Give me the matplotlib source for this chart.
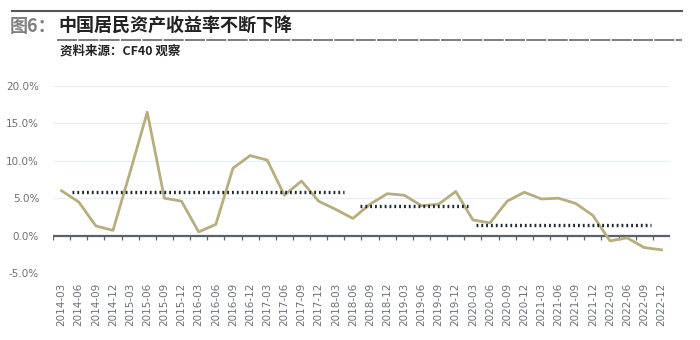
import matplotlib.pyplot as plt
from matplotlib.lines import Line2D

plt.rcParams['font.family'] = ['Noto Sans CJK SC', 'DejaVu Sans']

quarters = [f'{y}-{m}' for y in range(2014, 2023) for m in ['03', '06', '09', '12']]
returns = [6.0, 4.5, 1.3, 0.7, 8.5, 16.5, 5.0, 4.6, 0.5, 1.5, 9.0, 10.7,
           10.1, 5.4, 7.3, 4.6, 3.5, 2.3, 4.2, 5.6, 5.4, 4.0, 4.2, 5.9,
           2.1, 1.7, 4.6, 5.8, 4.9, 5.0, 4.3, 2.7, -0.7, -0.3, -1.6, -1.9]

# 阶段均值（起止位置为季度序号）
avg_start = [0.6, 17.4, 24.2]
avg_end = [16.5, 23.7, 34.4]
avg_value = [5.85, 4.0, 1.45]

yticks = [-5, 0, 5, 10, 15, 20]

fig = plt.figure(figsize=(7, 3.4), dpi=100)
ax = fig.add_axes([0.0757, 0.197, 0.8814, 0.55])

x = list(range(len(quarters)))
ax.set_xlim(-0.5, len(quarters) - 0.5)
ax.set_ylim(-5, 20)

for v in yticks:
    ax.axhline(v, color='#e3eef7', lw=0.8, zorder=0)

ax.axhline(0, color='#5a6169', lw=1.6, zorder=2)
bounds = [i - 0.5 for i in range(len(quarters) + 1)]
ax.vlines(bounds, -0.55, 0, color='#5a6169', lw=0.9, zorder=2)

ax.plot(x, returns, color='#b8ad7c', lw=2.0, zorder=3)

for s, e, v in zip(avg_start, avg_end, avg_value):
    ax.plot([s, e], [v, v], color='#1d2733', lw=2.4,
            linestyle=(0, (0.55, 0.9)), zorder=4)

ax.set_yticks(yticks)
ax.set_yticklabels([f'{v:.1f}%' for v in yticks], color='#6a717a', fontsize=7.5,
                   family=['DejaVu Sans'])
ax.set_xticks(x)
ax.set_xticklabels(quarters, rotation=90, color='#6a717a', fontsize=7.5,
                   family=['DejaVu Sans'])
ax.tick_params(length=0, pad=7)
ax.tick_params(axis='y', pad=10)
for sp in ax.spines.values():
    sp.set_visible(False)

# 标题区
fig.add_artist(Line2D([12 / 700, 682 / 700], [1 - 11 / 340] * 2,
                      color='#555555', lw=1.5))
fig.add_artist(Line2D([57 / 700, 682 / 700], [1 - 40 / 340] * 2,
                      color='#666666', lw=1.2, linestyle=(0, (12, 0.8))))
fig.text(10 / 700, 1 - 26 / 340, '图6：', fontsize=13, color='#808080',
         va='center', fontweight='bold')
fig.text(58 / 700, 1 - 26 / 340, '中国居民资产收益率不断下降', fontsize=13,
         color='#222222', va='center', fontweight='bold')
fig.text(60 / 700, 1 - 51 / 340, '资料来源：CF40 观察', fontsize=9,
         color='#222222', va='center', fontweight='bold')

fig.savefig('out.png', dpi=100)
